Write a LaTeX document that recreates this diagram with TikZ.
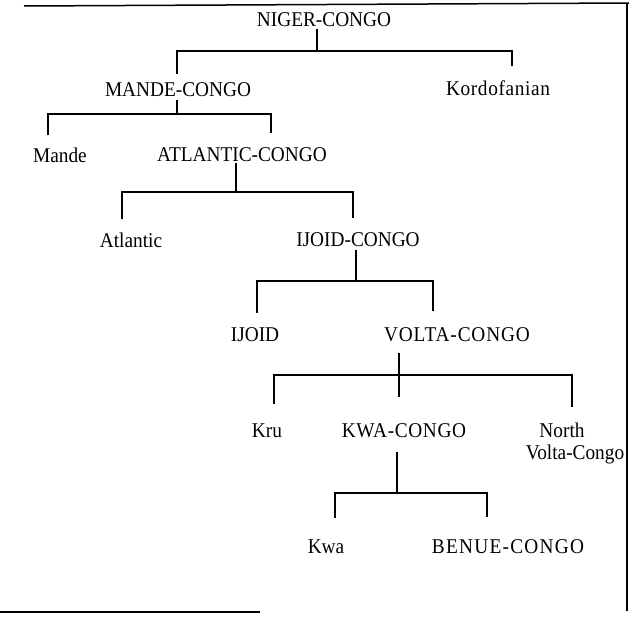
\documentclass[tikz,border=0pt]{standalone}
\usepackage{fontspec}
\setmainfont[FakeStretch=0.92]{Liberation Serif}
\usepackage{tikz}
\tikzstyle{lang}=[inner sep=1pt,font=\fontsize{21}{22}\selectfont]
\tikzstyle{wide}=[lang,font=\fontsize{21}{22}\selectfont\addfontfeature{LetterSpace=#1}]
\tikzstyle{branch}=[line width=1.2pt]
\tikzstyle{frame}=[line width=1.5pt]

\begin{document}
\begin{tikzpicture}[x=1pt,y=-1pt]
\useasboundingbox (0,0) rectangle (629,616);
% frame
\coordinate (tl) at (24,6);
\coordinate (tr) at (629,3);
\coordinate (rt) at (627,4);
\coordinate (rb) at (627,611);
\coordinate (bl) at (0,612);
\coordinate (br) at (260,612);
\draw[frame] (tl) -- (tr);
\draw[frame] (rt) -- (rb);
\draw[frame] (bl) -- (br);

% languages
\node [lang] (ng) at (324,20) {NIGER-CONGO};
\node [lang] (mc) at (178,90) {MANDE-CONGO};
\node [wide=3] (ko) at (498,88) {Kordofanian};
\node [lang] (ma) at (60,155) {Mande};
\node [lang] (ac) at (242,155) {ATLANTIC-CONGO};
\node [lang] (at) at (131,240) {Atlantic};
\node [lang] (ic) at (358,240) {IJOID-CONGO};
\node [lang] (ij) at (255,335) {IJOID};
\node [wide=4] (vc) at (457,335) {VOLTA-CONGO};
\node [lang] (kr) at (267,431) {Kru};
\node [wide=3] (kc) at (404,431) {KWA-CONGO};
\node [lang,align=center,anchor=north] (nv) at (575,422) {North\hspace*{26pt}\\Volta-Congo};
\node [lang] (kw) at (326,547) {Kwa};
\node [wide=6] (bc) at (508,547) {BENUE-CONGO};

% brackets
\coordinate (s1) at (317,51);
\coordinate (b1l) at (177,51);
\coordinate (b1r) at (512,51);
\draw[branch] ([yshift=-1pt]s1 |- ng.south) -- (s1);
\draw[branch] ([yshift=8pt]b1l |- mc.north) -- (b1l) -- (b1r) -- ([yshift=13pt]b1r |- ko.north);

\coordinate (s2) at (177,114);
\coordinate (b2l) at (48,114);
\coordinate (b2r) at (271,114);
\draw[branch] ([yshift=-2pt]s2 |- mc.south) -- (s2);
\draw[branch] ([yshift=11pt]b2l |- ma.north) -- (b2l) -- (b2r) -- ([yshift=14pt]b2r |- ac.north);

\coordinate (s3) at (236,192);
\coordinate (b3l) at (122,192);
\coordinate (b3r) at (353,192);
\draw[branch] (s3 |- ac.south) -- (s3);
\draw[branch] ([yshift=12pt]b3l |- at.north) -- (b3l) -- (b3r) -- ([yshift=14pt]b3r |- ic.north);

\coordinate (s4) at (356,281);
\coordinate (b4l) at (257,281);
\coordinate (b4r) at (433,281);
\draw[branch] ([yshift=-2pt]s4 |- ic.south) -- (s4);
\draw[branch] ([yshift=14pt]b4l |- ij.north) -- (b4l) -- (b4r) -- ([yshift=16pt]b4r |- vc.north);

\coordinate (s5) at (399,397);
\coordinate (b5l) at (274,375);
\coordinate (b5r) at (572,375);
\draw[branch] ([yshift=-10pt]s5 |- vc.south) -- (s5);
\draw[branch] ([yshift=19pt]b5l |- kr.north) -- (b5l) -- (b5r) -- ([yshift=15pt]b5r |- nv.north);

\coordinate (s6) at (397,493);
\coordinate (b6l) at (335,493);
\coordinate (b6r) at (487,493);
\draw[branch] ([yshift=-13pt]s6 |- kc.south) -- (s6);
\draw[branch] ([yshift=21pt]b6l |- kw.north) -- (b6l) -- (b6r) -- ([yshift=22pt]b6r |- bc.north);
\end{tikzpicture}
\end{document}
